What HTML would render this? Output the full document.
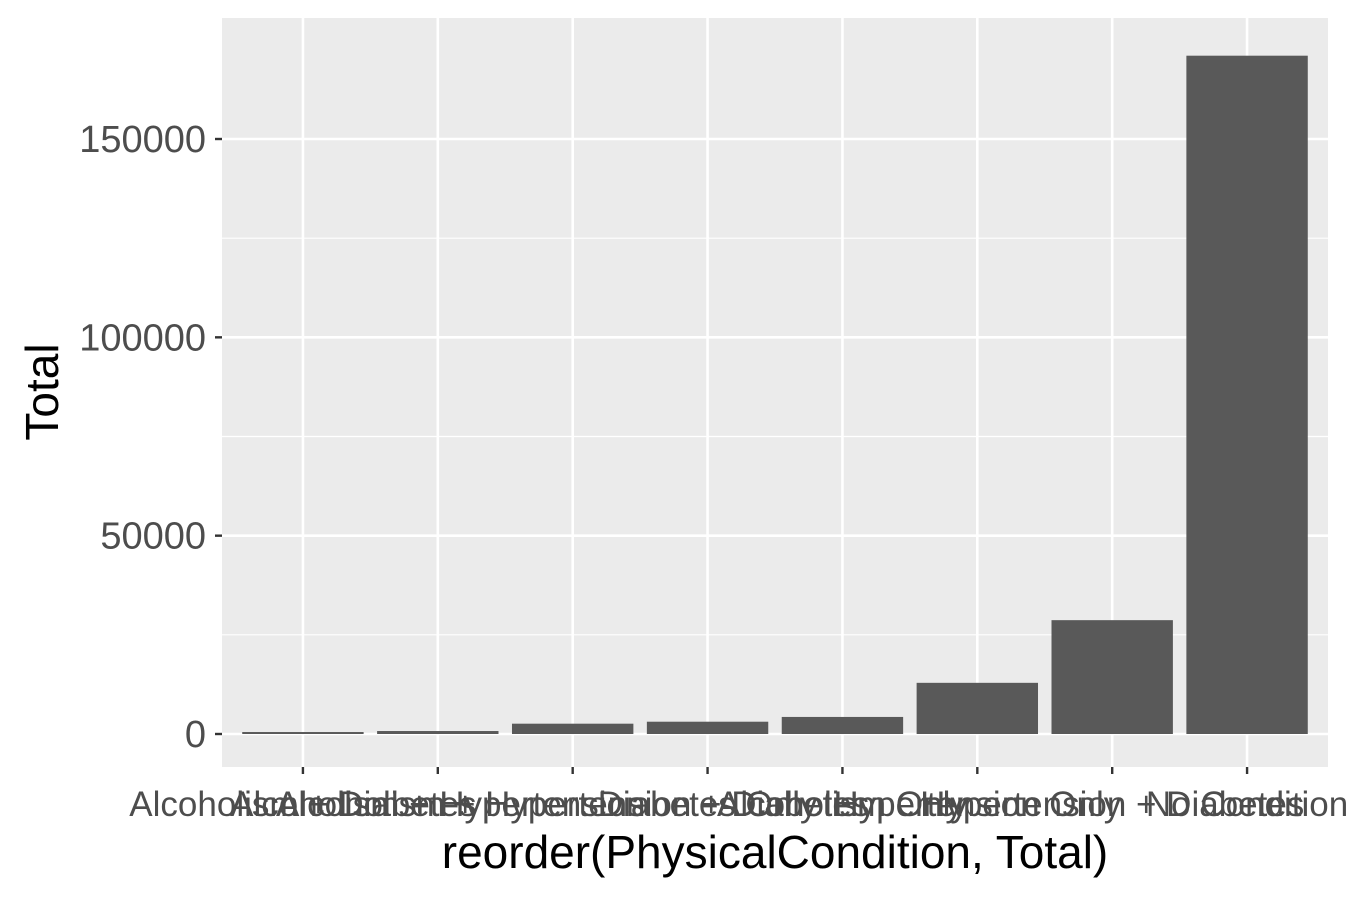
<!DOCTYPE html>
<html><head><meta charset="utf-8"><style>body{margin:0;background:#fff}svg{display:block;font-family:"Liberation Sans",Arial,sans-serif}</style></head>
<body>
<svg id="chart" width="1350" height="900"></svg>
<script>
const categories=["Alcoholism + Diabetes","Alcoholism + Hypertension","Alcoholism + Hypertension + Diabetes","Diabetes Only","Alcoholism Only","Hypertension Only","Hypertension + Diabetes","No Condition"];
const totals=[500,750,2600,3100,4300,12900,28700,171000];
const yTicks=[0,50000,100000,150000];
const yMinor=[25000,75000,125000];
const NS="http://www.w3.org/2000/svg";
const svg=document.getElementById('chart');
const L=222,R=1328,T=18,B=767;
const yScale=v=>734-v*(734-139)/150000;
const n=categories.length;
const step=(R-L)/(n-1+1.2);
const xScale=i=>L+step*(i+0.6);
const bw=step*0.9;
function mk(tag,attrs,parent){const e=document.createElementNS(NS,tag);for(const k in attrs)e.setAttribute(k,attrs[k]);(parent||svg).appendChild(e);return e;}
const panel=mk('rect',{x:L,y:T,width:R-L,height:B-T,fill:'#ebebeb'});


yMinor.forEach(v=>{const l=mk('line',{x1:L,x2:R,y1:yScale(v),y2:yScale(v),stroke:'#fff','stroke-width':1.2});

});
yTicks.forEach(v=>{const l=mk('line',{x1:L,x2:R,y1:yScale(v),y2:yScale(v),stroke:'#fff','stroke-width':2.6});


const t=mk('line',{x1:L-7,x2:L,y1:yScale(v),y2:yScale(v),stroke:'#333','stroke-width':2.4});


const tx=mk('text',{x:L-16,y:yScale(v)+13,'text-anchor':'end','font-size':38,fill:'#4d4d4d'});tx.textContent=v;

});
categories.forEach((c,i)=>{const x=xScale(i);
const g=mk('line',{x1:x,x2:x,y1:T,y2:B,stroke:'#fff','stroke-width':2.6});

});
categories.forEach((c,i)=>{const x=xScale(i);
const b=mk('rect',{x:x-bw/2,y:yScale(totals[i]),width:bw,height:yScale(0)-yScale(totals[i]),fill:'#595959'});


const t=mk('line',{x1:x,x2:x,y1:B,y2:B+7,stroke:'#333','stroke-width':2.4});


const tx=mk('text',{x:x,y:816,'text-anchor':'middle','font-size':35,fill:'#4d4d4d'});tx.textContent=c;

});
const xt=mk('text',{x:(L+R)/2,y:868,'text-anchor':'middle','font-size':46,fill:'#000'});xt.textContent='reorder(PhysicalCondition, Total)';


const yt=mk('text',{x:0,y:0,'text-anchor':'middle','font-size':46,fill:'#000',transform:'translate(58,392) rotate(-90)'});yt.textContent='Total';


</script>
</body></html>
